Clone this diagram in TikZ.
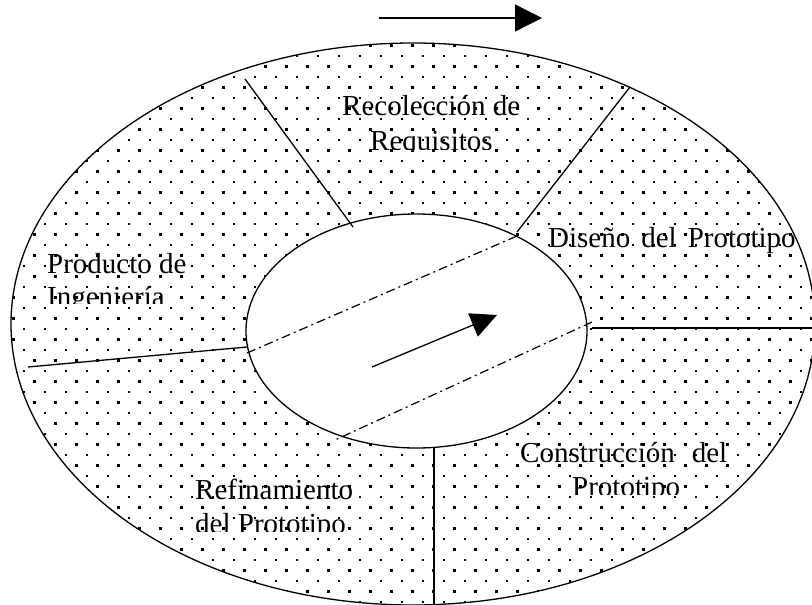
\documentclass[tikz,border=0pt]{standalone}
\usepackage{fontspec}
\setmainfont{Liberation Serif}
\usetikzlibrary{arrows.meta}
\begin{document}
\begin{tikzpicture}[x=1pt,y=-1pt,
  divline/.style={line width=1.3pt},
  dashdotline/.style={line width=1.2pt, dash pattern=on 9pt off 4pt on 2pt off 4pt},
  lbl/.style={anchor=base west, inner sep=0pt, font=\fontsize{29}{33}\selectfont},
  bigarrow/.style={line width=1.3pt, -{Triangle[length=27pt,width=27pt]}}
]
\useasboundingbox (0,0) rectangle (812,605);
\fill[white] (0,0) rectangle (812,605);
% dotted ring
\begin{scope}
  \clip (413,324) ellipse [x radius=402, y radius=281];
  \foreach \j in {0,...,57}{
    \pgfmathsetmacro\yy{3.5+10.5*\j}
    \pgfmathsetmacro\xo{mod(\j,2)==1 ? 3 : 13.5}
    \foreach \k in {0,...,38}{
      \fill (\xo+21*\k-1.25, \yy-1.25) rectangle ++(2.5,2.5);
    }
  }
\end{scope}
\fill[white] (416.5,331) ellipse [x radius=170.5, y radius=117];
% ellipses
\draw[divline] (413,324) ellipse [x radius=402, y radius=281];
\draw[divline] (416.5,331) ellipse [x radius=170.5, y radius=117];
% dividing lines
\coordinate (tl1) at (245,79);  \coordinate (tl2) at (353,227);
\coordinate (tr1) at (630,87);  \coordinate (tr2) at (517,232);
\coordinate (r1) at (592,328);  \coordinate (r2) at (812,328);
\coordinate (l1) at (28,367);   \coordinate (l2) at (247,347);
\coordinate (b1) at (434,447);  \coordinate (b2) at (434,605);
\draw[divline] (tl1) -- (tl2);
\draw[divline] (tr1) -- (tr2);
\draw[divline] (r1) -- (r2);
\draw[divline] (l1) -- (l2);
\draw[divline] (b1) -- (b2);
% dash-dot lines
\coordinate (du1) at (247,353); \coordinate (du2) at (517,236);
\coordinate (dl1) at (592,322); \coordinate (dl2) at (335,440);
\draw[dashdotline] (du1) -- (du2);
\draw[dashdotline] (dl1) -- (dl2);
% arrows
\coordinate (ta1) at (379,18); \coordinate (ta2) at (542,18);
\draw[bigarrow] (ta1) -- (ta2);
\coordinate (ia1) at (372,367); \coordinate (ia2) at (497,315);
\draw[line width=1.3pt, -{Triangle[length=26pt,width=25pt]}] (ia1) -- (ia2);
% labels
\node[lbl] (rec1) at (342,115) {Recolección de};
\begin{scope}
  \clip (0,0) rectangle (812,149);
  \node[lbl] (rec2) at (370,150) {Requisitos};
\end{scope}
\node[lbl] (dis) at (548,247) {Diseño\hspace*{11pt}del\hspace*{11pt}Prototipo};
\node[lbl] (pro1) at (47,273) {Producto de};
\begin{scope}
  \clip (0,0) rectangle (812,303);
  \node[lbl] (pro2) at (47,306) {Ingeniería};
\end{scope}
\node[lbl] (con1) at (520,462) {Construcción\hspace*{17pt}del};
\begin{scope}
  \clip (0,0) rectangle (812,494);
  \node[lbl] (con2) at (572,496) {Prototipo};
\end{scope}
\node[lbl] (ref1) at (195,499) {Refinamiento};
\begin{scope}
  \clip (0,0) rectangle (812,531);
  \node[lbl] (ref2) at (195,533) {del Prototipo};
\end{scope}
\end{tikzpicture}
\end{document}
